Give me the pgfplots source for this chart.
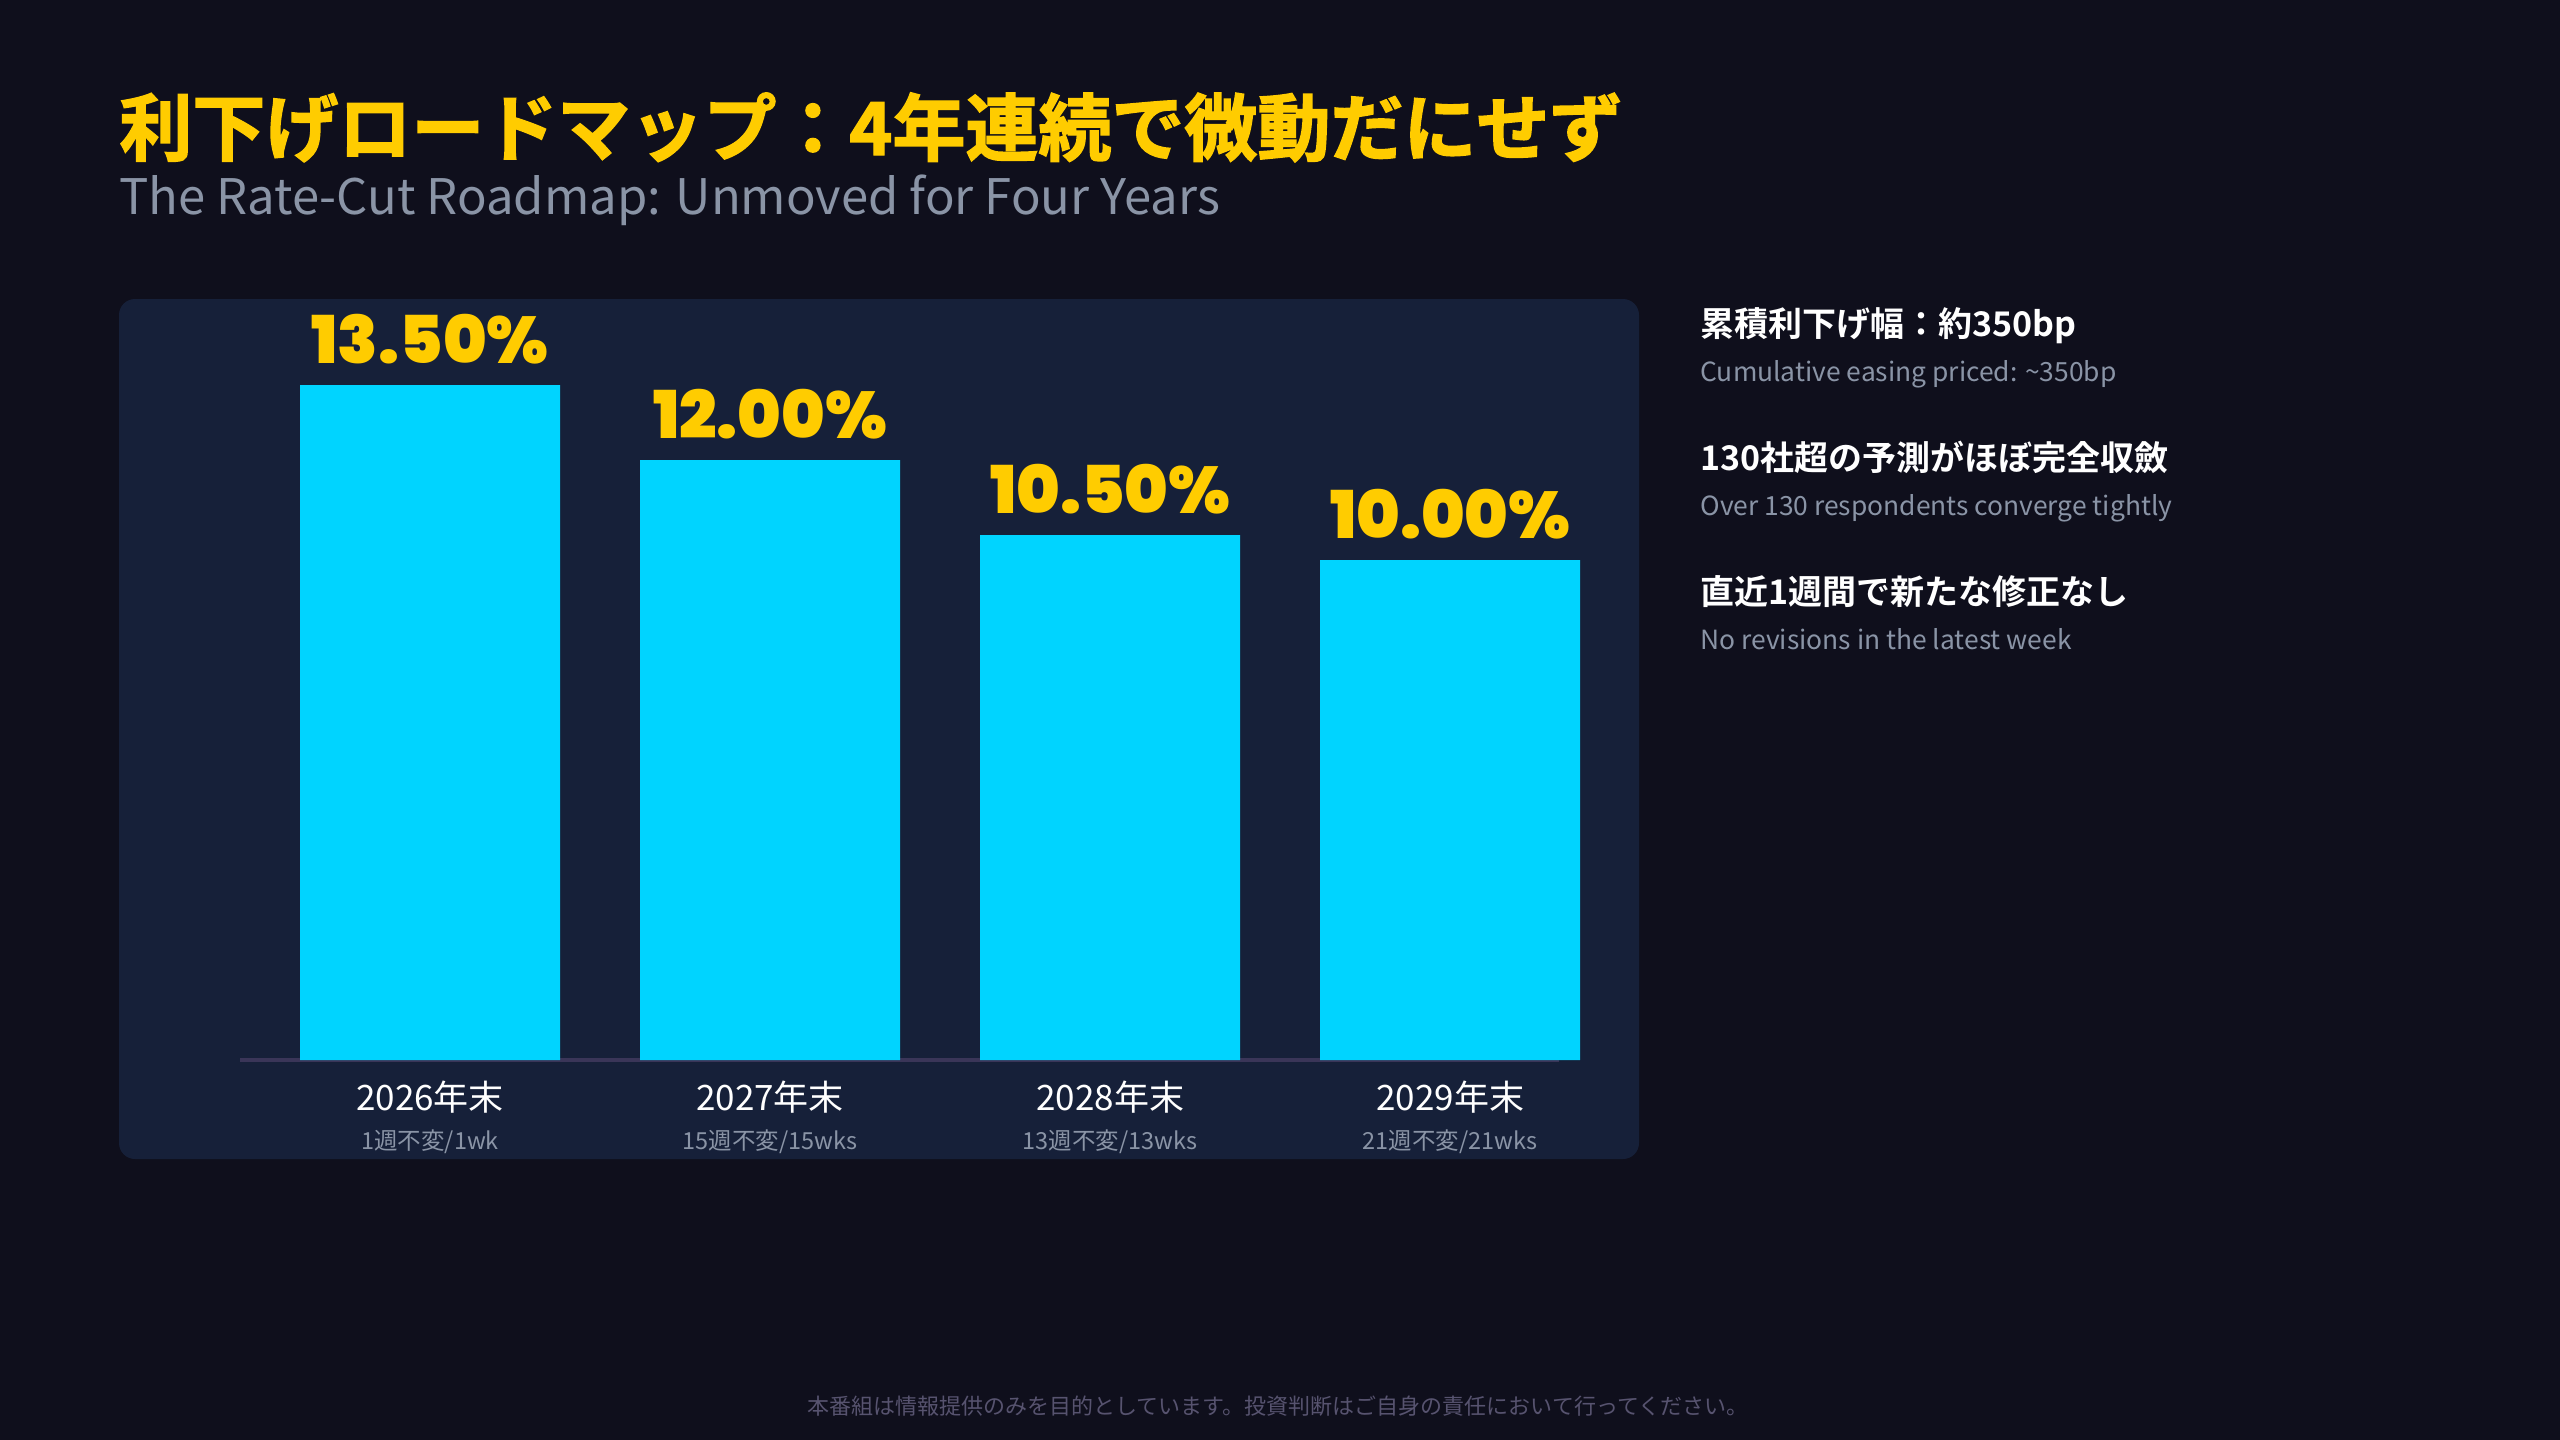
\documentclass[border=0pt]{standalone}
\usepackage{pgfplots}
\usepackage{pgfplotstable}
\pgfplotsset{compat=1.18}
\usepackage{fontspec}
\setmainfont{Noto Sans CJK JP}
\newfontfamily\jp{Noto Sans CJK JP}
\newfontfamily\jpb{Noto Sans CJK JP Bold}
\newfontfamily\jpheavy{Noto Sans CJK JP Bold}[FakeBold=2]
\newfontfamily\numfont{Poppins Black}
\definecolor{bg}{HTML}{0F0F1C}
\definecolor{panel}{HTML}{162039}
\definecolor{barc}{HTML}{00D4FF}
\definecolor{gold}{HTML}{FFCC00}
\definecolor{subg}{HTML}{8A94A6}
\definecolor{basel}{HTML}{3A3558}
\definecolor{foot}{HTML}{57536F}
\pgfplotstableread{
x y
0 13.5
1 12.0
2 10.5
3 10.0
}\rates
\begin{document}
\begin{tikzpicture}
\begin{scope}[x=0.5pt,y=-0.5pt]
\fill[bg] (0,0) rectangle (2560,1440);
\fill[panel, rounded corners=8pt] (119,299) rectangle (1639,1159);
\end{scope}
\begin{axis}[
  at={(120pt,-530pt)}, anchor=south west,
  scale only axis, width=659.5pt, height=362.5pt,
  xmin=-0.559, xmax=3.32, ymin=0, ymax=14.5,
  axis x line*=bottom, axis y line=none,
  x axis line style={draw=basel, line width=2pt, -},
  xtick=data,
  xticklabels={2026年末,2027年末,2028年末,2029年末},
  xtick style={draw=none},
  major tick length=0pt,
  xticklabel style={font=\jp\fontsize{17.5}{20}\selectfont, text=white, anchor=base, yshift=-25pt, inner sep=0pt},
  clip=false,
  ybar, bar width=130pt,
  nodes near coords={\pgfmathprintnumber[fixed,fixed zerofill,precision=2,assume math mode=true]{\pgfplotspointmeta}\%},
  every node near coord/.append style={font=\numfont\fontsize{33}{36}\selectfont, text=gold, anchor=base, yshift=11pt, inner sep=0pt},
]
\addplot[fill=barc, draw=none] table[x=x,y=y]{\rates};
\node[anchor=base, inner sep=0pt, text=subg, font=\jp\fontsize{11.75}{13}\selectfont, yshift=-44.5pt] at (axis cs:0,0) {1週不変/1wk};
\node[anchor=base, inner sep=0pt, text=subg, font=\jp\fontsize{11.75}{13}\selectfont, yshift=-44.5pt] at (axis cs:1,0) {15週不変/15wks};
\node[anchor=base, inner sep=0pt, text=subg, font=\jp\fontsize{11.75}{13}\selectfont, yshift=-44.5pt] at (axis cs:2,0) {13週不変/13wks};
\node[anchor=base, inner sep=0pt, text=subg, font=\jp\fontsize{11.75}{13}\selectfont, yshift=-44.5pt] at (axis cs:3,0) {21週不変/21wks};
\end{axis}
\begin{scope}[x=0.5pt,y=-0.5pt]
\node[anchor=base west, inner sep=0pt, text=gold, font=\jpheavy\fontsize{36.5}{40}\selectfont] at (119,155) {利下げロードマップ：4年連続で微動だにせず};
\node[anchor=base west, inner sep=0pt, text=subg, font=\jp\fontsize{24.5}{28}\selectfont] at (119,214) {The Rate-Cut Roadmap: Unmoved for Four Years};
\node[anchor=base west, inner sep=0pt, text=white, font=\jpb\fontsize{17}{20}\selectfont] at (1700,336) {累積利下げ幅：約350bp};
\node[anchor=base west, inner sep=0pt, text=subg, font=\jp\fontsize{13.2}{15}\selectfont] at (1700,381) {Cumulative easing priced: \textasciitilde350bp};
\node[anchor=base west, inner sep=0pt, text=white, font=\jpb\fontsize{17}{20}\selectfont] at (1700,470) {130社超の予測がほぼ完全収斂};
\node[anchor=base west, inner sep=0pt, text=subg, font=\jp\fontsize{13.2}{15}\selectfont] at (1700,515) {Over 130 respondents converge tightly};
\node[anchor=base west, inner sep=0pt, text=white, font=\jpb\fontsize{17}{20}\selectfont] at (1700,604) {直近1週間で新たな修正なし};
\node[anchor=base west, inner sep=0pt, text=subg, font=\jp\fontsize{13.2}{15}\selectfont] at (1700,649) {No revisions in the latest week};
\node[anchor=base, inner sep=0pt, text=foot, font=\jp\fontsize{11}{12}\selectfont] at (1278,1414) {本番組は情報提供のみを目的としています。投資判断はご自身の責任において行ってください。};
\end{scope}
\end{tikzpicture}
\end{document}
